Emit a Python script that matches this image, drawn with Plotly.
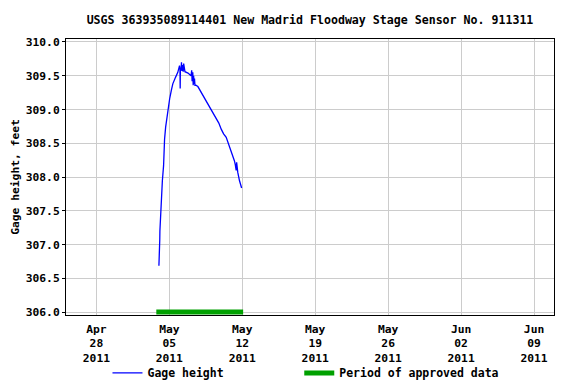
import plotly.graph_objects as go

# Gage height series
times = [
    "2011-05-04 00:00", "2011-05-04 00:15", "2011-05-04 02:00", "2011-05-04 02:15",
    "2011-05-04 03:30", "2011-05-04 05:30", "2011-05-04 08:00", "2011-05-04 10:45",
    "2011-05-04 11:15", "2011-05-04 13:00", "2011-05-04 15:30", "2011-05-04 18:30",
    "2011-05-04 21:00", "2011-05-05 00:45", "2011-05-05 04:30", "2011-05-05 08:00",
    "2011-05-05 14:30", "2011-05-05 19:30", "2011-05-05 23:30", "2011-05-06 00:30",
    "2011-05-06 01:00", "2011-05-06 01:30", "2011-05-06 03:00", "2011-05-06 04:00",
    "2011-05-06 05:00", "2011-05-06 06:00", "2011-05-06 08:00", "2011-05-06 09:00",
    "2011-05-06 12:00", "2011-05-06 19:00", "2011-05-07 02:00", "2011-05-07 03:30",
    "2011-05-07 04:30", "2011-05-07 06:00", "2011-05-07 07:00", "2011-05-07 08:00",
    "2011-05-07 09:00", "2011-05-07 10:00", "2011-05-07 11:00", "2011-05-07 13:00",
    "2011-05-07 17:45", "2011-05-08 01:45", "2011-05-08 09:00", "2011-05-08 15:00",
    "2011-05-08 20:30", "2011-05-09 04:15", "2011-05-09 12:00", "2011-05-09 18:00",
    "2011-05-09 23:30", "2011-05-10 05:00", "2011-05-10 11:00", "2011-05-10 15:00",
    "2011-05-10 18:45", "2011-05-11 02:10", "2011-05-11 06:00", "2011-05-11 08:00",
    "2011-05-11 10:00", "2011-05-11 11:00", "2011-05-11 12:00", "2011-05-11 13:40",
    "2011-05-11 17:30", "2011-05-11 21:30", "2011-05-11 22:30",
]
gage_height = [
    306.69, 307.03, 307.08, 307.20,
    307.40, 307.69, 307.95, 308.17,
    308.45, 308.56, 308.74, 308.89,
    309.01, 309.16, 309.28, 309.38,
    309.48, 309.55, 309.65, 309.60,
    309.31, 309.62, 309.58, 309.70,
    309.57, 309.66, 309.56, 309.68,
    309.56, 309.54, 309.50, 309.58,
    309.42, 309.55, 309.36, 309.50,
    309.38, 309.46, 309.36, 309.36,
    309.34, 309.25, 309.16, 309.10,
    309.03, 308.96, 308.86, 308.80,
    308.71, 308.64, 308.59, 308.52,
    308.46, 308.32, 308.24, 308.18,
    308.10, 308.22, 308.08, 308.07,
    307.95, 307.87, 307.84,
]

# Period of approved data
approved_start = "2011-05-03 18:00"
approved_end = "2011-05-12 02:00"
approved_level = 306.005

tick_dates = ["2011-04-28", "2011-05-05", "2011-05-12", "2011-05-19",
              "2011-05-26", "2011-06-02", "2011-06-09"]
tick_text = ["Apr<br>28<br>2011", "May<br>05<br>2011", "May<br>12<br>2011",
             "May<br>19<br>2011", "May<br>26<br>2011", "Jun<br>02<br>2011",
             "Jun<br>09<br>2011"]
y_ticks = [306.0, 306.5, 307.0, 307.5, 308.0, 308.5, 309.0, 309.5, 310.0]
y_text = ["306.0", "306.5", "307.0", "307.5", "308.0", "308.5", "309.0", "309.5", "310.0"]

FONT = "DejaVu Sans Mono"

fig = go.Figure()
fig.add_trace(go.Scatter(
    x=times, y=gage_height, mode="lines", name="Gage height",
    line=dict(color="#0000ff", width=1.3), legend="legend",
))
fig.add_trace(go.Scatter(
    x=[approved_start, approved_end], y=[approved_level, approved_level],
    mode="lines", name="Period of approved data",
    line=dict(color="#00a000", width=5), legend="legend2",
))

legend_common = dict(
    orientation="h", xanchor="left", y=-0.21, yanchor="middle",
    yref="paper", font=dict(family=FONT, size=11.5, weight="bold"),
    itemwidth=30, bgcolor="rgba(0,0,0,0)",
)

fig.update_layout(
    width=576, height=384,
    margin=dict(l=66, r=22, t=39, b=69, autoexpand=False),
    paper_bgcolor="white", plot_bgcolor="white",
    font=dict(family=FONT, size=11.3, color="black", weight="bold"),
    title=dict(
        text="USGS 363935089114401 New Madrid Floodway Stage Sensor No. 911311",
        x=0.5, xref="paper", xanchor="center",
        y=1 - 20 / 384, yref="container", yanchor="middle",
        font=dict(family=FONT, size=11.6, color="black", weight="bold"),
    ),
    showlegend=True,
    legend=dict(x=0.085, **legend_common),
    legend2=dict(x=0.478, **legend_common),
)

fig.update_xaxes(
    type="date", automargin=False,
    range=["2011-04-25 02:00", "2011-06-10 22:00"],
    tickvals=tick_dates, ticktext=tick_text,
    showgrid=True, gridcolor="#cccccc", gridwidth=1,
    showline=True, linecolor="black", linewidth=1, mirror=True,
    ticks="", zeroline=False, ticklabelstandoff=3,
    tickfont=dict(family=FONT, size=11.3, weight="bold"),
)
fig.update_yaxes(
    automargin=False,
    range=[305.96, 310.044],
    tickvals=y_ticks, ticktext=y_text,
    showgrid=True, gridcolor="#cccccc", gridwidth=1,
    showline=True, linecolor="black", linewidth=1, mirror=True,
    ticks="outside", ticklen=3, tickcolor="black",
    zeroline=False,
    title=dict(text="Gage height, feet", standoff=3,
               font=dict(family=FONT, size=11.3, weight="bold")),
    tickfont=dict(family=FONT, size=11.3, weight="bold"),
)

fig.write_html(
    "out.html",
    config={"displayModeBar": False},
    post_script="document.body.style.margin='0';document.body.style.overflow='hidden';",
)
